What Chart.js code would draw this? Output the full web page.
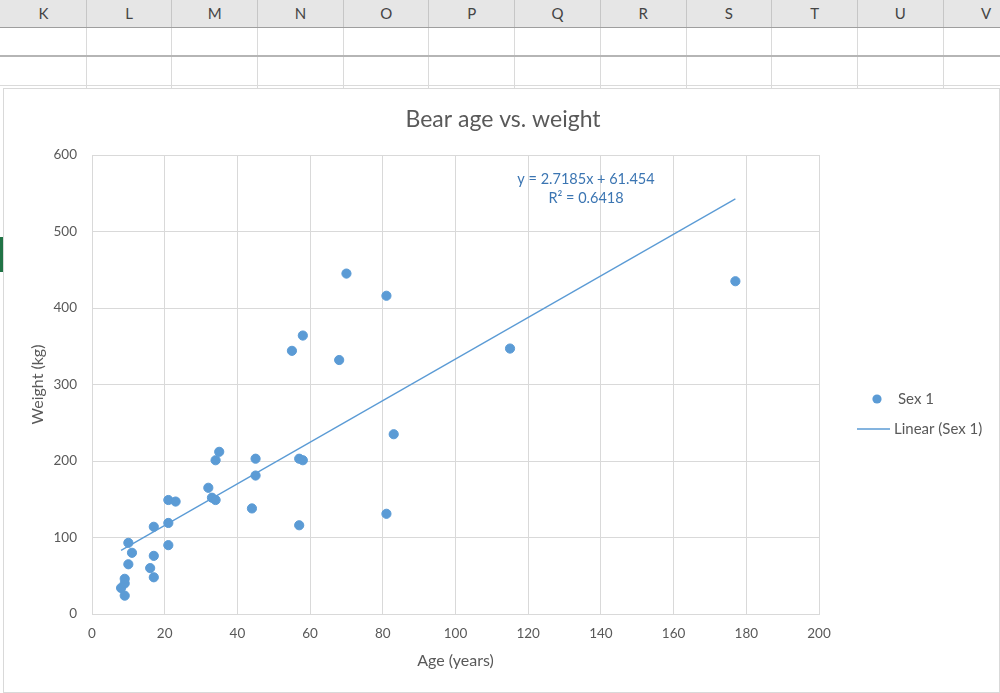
<!DOCTYPE html>
<html>
<head>
<meta charset="utf-8">
<script src="https://cdn.jsdelivr.net/npm/chart.js@4"></script>
<style>
  html, body { margin: 0; padding: 0; background: #fff; }
  body { width: 1000px; height: 693px; position: relative; overflow: hidden; font-family: Lato, "Open Sans", sans-serif; }
  .colhead { position: absolute; top: 0; left: 0; width: 1000px; height: 27px; background: #e6e6e6; border-bottom: 1px solid #9e9e9e; }
  .colhead div { position: absolute; top: 0; height: 27px; line-height: 27px; text-align: center; font-size: 15px; color: #444; border-right: 1px solid #c6c6c6; box-sizing: border-box; }
  .col { position: absolute; top: 28px; height: 60px; border-right: 1px solid #dadada; box-sizing: border-box; }
  .rowline { position: absolute; left: 0; width: 1000px; height: 0; }
  #box { position: absolute; left: 3px; top: 88px; width: 997px; height: 605px; background: #fff; border: 1px solid #d9d9d9; box-sizing: border-box; }
  .sel { position: absolute; left: 0; top: 237px; width: 3px; height: 35px; background: #217346; }
</style>
</head>
<body>
<div class="colhead" id="heads"></div>
<div id="cols"></div>
<div class="rowline" style="top:55px;border-top:2px solid #b5b5b5"></div>
<div class="rowline" style="top:85px;border-top:1px solid #dadada"></div>
<div class="sel"></div>
<div id="box"><canvas id="bearChart" width="995" height="603"></canvas></div>
<script>
// sheet columns shown above the chart
const columnLetters = ["K", "L", "M", "N", "O", "P", "Q", "R", "S", "T", "U", "V"]

// bear data
const ages = [8, 9, 9, 9, 10, 10, 11, 16, 17, 17, 17, 21, 21, 21, 23, 32, 33, 34, 34, 35, 44, 45, 45, 55, 57, 57, 58, 58, 68, 70, 81, 81, 83, 115, 177]
const weights = [34, 24, 40, 46, 65, 93, 80, 60, 48, 76, 114, 90, 119, 149, 147, 165, 152, 149, 201, 212, 138, 181, 203, 344, 116, 203, 201, 364, 332, 445, 131, 416, 235, 347, 435]

// Excel's linear trendline for the series
const slope = 2.7185
const intercept = 61.454
const rSquared = 0.6418

const xTicks = [0, 20, 40, 60, 80, 100, 120, 140, 160, 180, 200]
const yTicks = [0, 100, 200, 300, 400, 500, 600]

const blue = "#5b9bd5"
const textGrey = "#595959"
const gridGrey = "#d9d9d9"

// spreadsheet header
const heads = document.getElementById("heads")
const cols = document.getElementById("cols")
const colW = 85.7
columnLetters.forEach((letter, i) => {
  const left = 1 + i * colW
  const h = document.createElement("div")
  h.style.left = left + "px"
  h.style.width = colW + "px"
  h.textContent = letter
  heads.appendChild(h)
  const c = document.createElement("div")
  c.className = "col"
  c.style.left = left + "px"
  c.style.width = colW + "px"
  cols.appendChild(c)
})

const points = ages.map((a, i) => ({ x: a, y: weights[i] }))
const xMin = Math.min(...ages)
const xMax = Math.max(...ages)
const trend = [
  { x: xMin, y: slope * xMin + intercept },
  { x: xMax, y: slope * xMax + intercept }
]

// title, legend and trendline label, drawn like Excel places them
const excelText = {
  id: "excelText",
  afterDraw(chart) {
    const ctx = chart.ctx
    const area = chart.chartArea
    ctx.save()
    ctx.fillStyle = textGrey
    ctx.font = "23px Lato"
    ctx.textAlign = "center"
    ctx.textBaseline = "middle"
    ctx.fillText("Bear age vs. weight", 499, 31)

    // trendline equation
    ctx.fillStyle = "#3b75b2"
    ctx.font = "14.5px Lato"
    ctx.fillText("y = " + slope + "x + " + intercept, 582, 90)
    ctx.fillText("R² = " + rSquared, 582, 109)

    // legend
    const lx = area.right + 38
    ctx.fillStyle = blue
    ctx.beginPath()
    ctx.arc(lx + 20, 310, 4.6, 0, Math.PI * 2)
    ctx.fill()
    ctx.strokeStyle = blue
    ctx.lineWidth = 1.3
    ctx.beginPath()
    ctx.moveTo(lx, 340)
    ctx.lineTo(lx + 33, 340)
    ctx.stroke()
    ctx.fillStyle = textGrey
    ctx.font = "15px Lato"
    ctx.textAlign = "left"
    ctx.fillText("Sex 1", lx + 41, 310)
    ctx.fillText("Linear (Sex 1)", lx + 37, 340)
    ctx.restore()
  }
}

const ctx = document.getElementById("bearChart").getContext("2d")
new Chart(ctx, {
  type: "scatter",
  data: {
    datasets: [
      {
        label: "Sex 1",
        data: points,
        backgroundColor: blue,
        borderColor: blue,
        pointRadius: 4.6,
        pointHoverRadius: 4.6,
        order: 1
      },
      {
        label: "Linear (Sex 1)",
        type: "line",
        data: trend,
        borderColor: blue,
        borderWidth: 1.3,
        pointRadius: 0,
        fill: false,
        order: 2
      }
    ]
  },
  options: {
    responsive: false,
    animation: false,
    events: [],
    layout: {
      padding: { left: 0, right: 180, top: 66, bottom: 0 }
    },
    plugins: {
      legend: { display: false },
      title: { display: false },
      tooltip: { enabled: false }
    },
    scales: {
      x: {
        type: "linear",
        min: xTicks[0],
        max: xTicks[xTicks.length - 1],
        afterBuildTicks: (scale) => { scale.ticks = xTicks.map(v => ({ value: v })) },
        afterFit: (scale) => { scale.height = 78 },
        grid: { color: gridGrey, drawTicks: false },
        border: { color: gridGrey },
        ticks: { color: textGrey, font: { family: "Lato", size: 13.5 }, padding: 12 },
        title: { display: true, text: "Age (years)", color: textGrey, font: { family: "Lato", size: 16 }, padding: { bottom: 22 } }
      },
      y: {
        type: "linear",
        min: yTicks[0],
        max: yTicks[yTicks.length - 1],
        afterBuildTicks: (scale) => { scale.ticks = yTicks.map(v => ({ value: v })) },
        afterFit: (scale) => { scale.width = 88 },
        grid: { color: gridGrey, drawTicks: false },
        border: { color: gridGrey },
        ticks: { color: textGrey, font: { family: "Lato", size: 13.5 }, padding: 15 },
        title: { display: true, text: "Weight (kg)", color: textGrey, font: { family: "Lato", size: 16 }, padding: { top: 24 } }
      }
    }
  },
  plugins: [excelText]
})
</script>
</body>
</html>
